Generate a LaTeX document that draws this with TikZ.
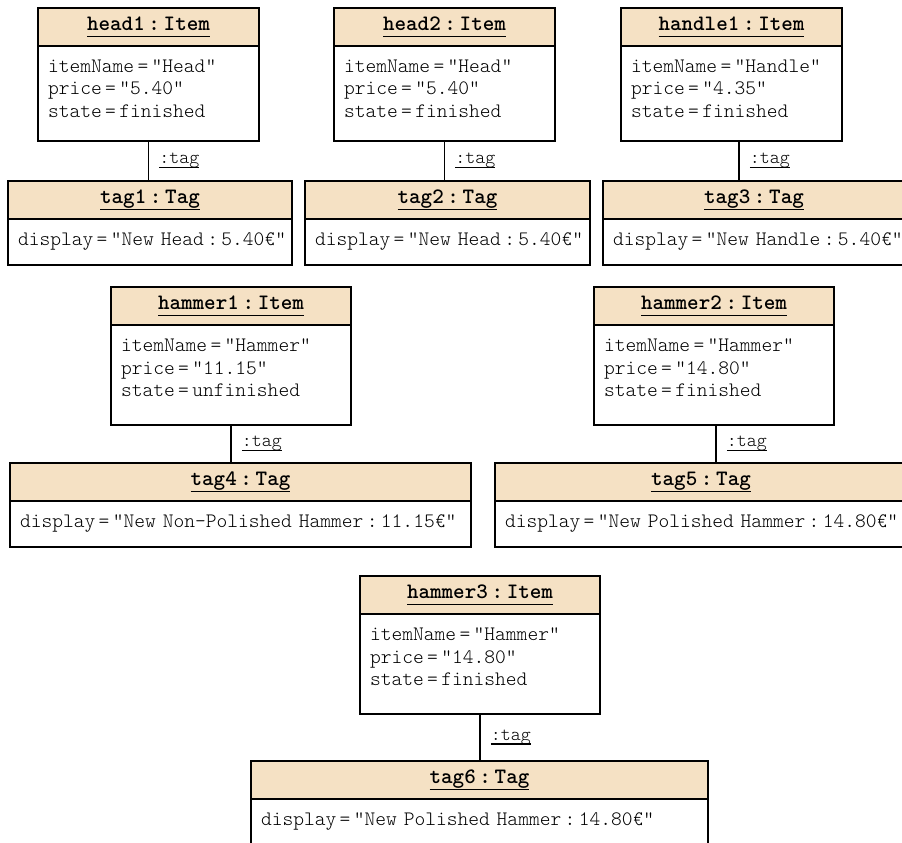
\documentclass[tikz,border=0pt]{standalone}
\usepackage{xcolor}
\usetikzlibrary{positioning}

\definecolor{objfill}{RGB}{245,225,196}
% underlined object name, rule at a fixed depth
\newcommand{\uname}[2][6.5pt]{\setbox0=\hbox{#2}\rlap{\rule[-#1]{\wd0}{1.2pt}}\box0}

\begin{document}
\begin{tikzpicture}[
		x=1pt, y=-1pt,
		objtitle/.style={rectangle, draw=black, fill=objfill, line width=1.2pt, outer sep=0pt, anchor=north west, minimum height=38pt, inner sep=0pt, font=\ttfamily\bfseries\fontsize{22}{24}\selectfont},
		objattr/.style={rectangle, draw=black, fill=white, line width=1.2pt, outer sep=0pt, inner xsep=10pt, inner ysep=0pt, align=left, font=\ttfamily\fontseries{l}\fontsize{20.5}{22.5}\selectfont},
		itemattr/.style={objattr, text height=26.5pt, text depth=#1},
		tagattr/.style={objattr, text height=26pt, text depth=20pt},
		link/.style={line width=1.2pt},
		role/.style={anchor=west, xshift=7pt, font=\ttfamily\fontseries{l}\fontsize{19}{20}\selectfont}
		]
		\useasboundingbox (0,0) rectangle (902,843);
		
		% Items, first row
		\node[objtitle, minimum width=221pt] (head1) at (38,8) {\uname{head1\,:\,Item}};
		\node[itemattr=68.5pt, text width=201pt, below=0pt of head1] (head1attr) {itemName\,=\,“Head”\\price\,=\,“5.40”\\state\,=\,finished};
		\node[objtitle, minimum width=221pt] (head2) at (334,8) {\uname{head2\,:\,Item}};
		\node[itemattr=68.5pt, text width=201pt, below=0pt of head2] (head2attr) {itemName\,=\,“Head”\\price\,=\,“5.40”\\state\,=\,finished};
		\node[objtitle, minimum width=221pt] (handle1) at (621,8) {\uname{handle1\,:\,Item}};
		\node[itemattr=68.5pt, text width=201pt, below=0pt of handle1] (handle1attr) {itemName\,=\,“Handle”\\price\,=\,“4.35”\\state\,=\,finished};
		
		% Tags, first row
		\node[objtitle, minimum width=284pt] (tag1) at (8,181) {\uname{tag1\,:\,Tag}};
		\node[tagattr, text width=264pt, below=0pt of tag1] (tag1attr) {\mbox{display\,=\,“New Head\,:\,5.40€”}};
		\node[objtitle, minimum width=285pt] (tag2) at (305,181) {\uname{tag2\,:\,Tag}};
		\node[tagattr, text width=265pt, below=0pt of tag2] (tag2attr) {\mbox{display\,=\,“New Head\,:\,5.40€”}};
		\node[objtitle, minimum width=302pt] (tag3) at (603,181) {\uname{tag3\,:\,Tag}};
		\node[tagattr, text width=282pt, below=0pt of tag3] (tag3attr) {\mbox{display\,=\,“New Handle\,:\,5.40€”}};
		
		% Items, second row
		\node[objtitle, minimum width=240pt] (hammer1) at (111,287) {\uname{hammer1\,:\,Item}};
		\node[itemattr=73.5pt, text width=220pt, below=0pt of hammer1] (hammer1attr) {itemName\,=\,“Hammer”\\price\,=\,“11.15”\\state\,=\,unfinished};
		\node[objtitle, minimum width=240pt] (hammer2) at (594,287) {\uname{hammer2\,:\,Item}};
		\node[itemattr=73.5pt, text width=220pt, below=0pt of hammer2] (hammer2attr) {itemName\,=\,“Hammer”\\price\,=\,“14.80”\\state\,=\,finished};
		
		% Tags, second row
		\node[objtitle, minimum width=461pt] (tag4) at (10,463) {\uname{tag4\,:\,Tag}};
		\node[tagattr, text width=441pt, below=0pt of tag4] (tag4attr) {\mbox{display\,=\,“New Non-Polished Hammer\,:\,11.15€”}};
		\node[objtitle, minimum width=412pt] (tag5) at (495,463) {\uname{tag5\,:\,Tag}};
		\node[tagattr, text width=392pt, below=0pt of tag5] (tag5attr) {\mbox{display\,=\,“New Polished Hammer\,:\,14.80€”}};
		
		% Third row
		\node[objtitle, minimum width=240pt] (hammer3) at (360,576) {\uname{hammer3\,:\,Item}};
		\node[itemattr=73.5pt, text width=220pt, below=0pt of hammer3] (hammer3attr) {itemName\,=\,“Hammer”\\price\,=\,“14.80”\\state\,=\,finished};
		\node[objtitle, minimum width=457pt] (tag6) at (251,761) {\uname{tag6\,:\,Tag}};
		\node[tagattr, text width=437pt, below=0pt of tag6] (tag6attr) {\mbox{display\,=\,“New Polished Hammer\,:\,14.80€”}};
		
		% Links
		\coordinate (handle1end) at ([xshift=7.5pt]handle1attr.south);
		\coordinate (hammer2end) at ([xshift=2pt]hammer2attr.south);
		\draw[link] (head1attr.south) -- node[role] {\uname[4pt]{:tag}} (head1attr.south |- tag1.north);
		\draw[link] (head2attr.south) -- node[role] {\uname[4pt]{:tag}} (head2attr.south |- tag2.north);
		\draw[link] (handle1end) -- node[role] {\uname[4pt]{:tag}} (handle1end |- tag3.north);
		\draw[link] (hammer1attr.south) -- node[role] {\uname[4pt]{:tag}} (hammer1attr.south |- tag4.north);
		\draw[link] (hammer2end) -- node[role] {\uname[4pt]{:tag}} (hammer2end |- tag5.north);
		\draw[link] (hammer3attr.south) -- node[role] {\uname[4pt]{:tag}} (hammer3attr.south |- tag6.north);
		
	\end{tikzpicture}
\end{document}
